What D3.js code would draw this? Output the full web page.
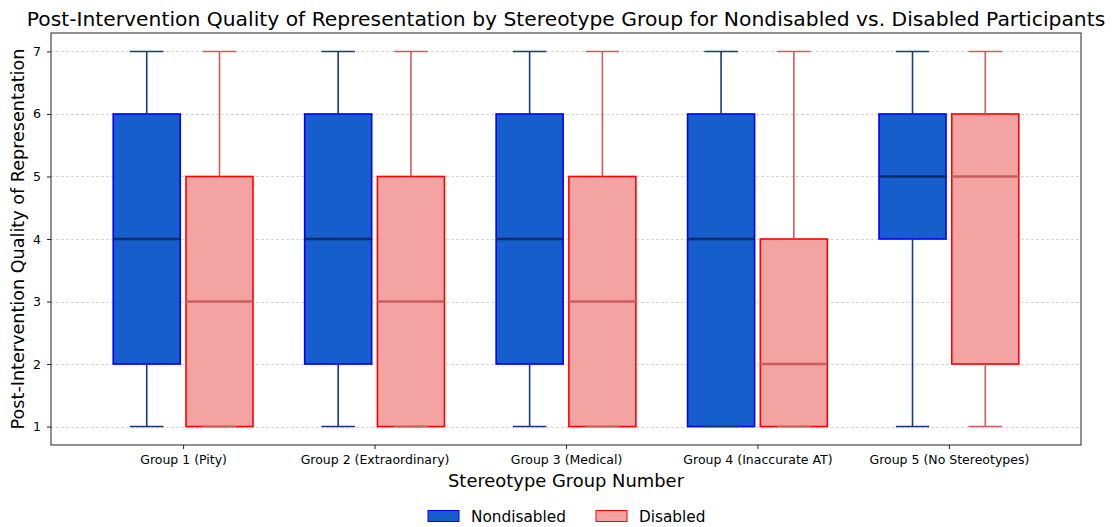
<!DOCTYPE html>
<html>
<head>
<meta charset="utf-8">
<script src="https://cdn.jsdelivr.net/npm/d3@7"></script>
<style>
  body { margin: 0; background: #fff; }
  text { font-family: "DejaVu Sans", sans-serif; fill: #000; }
</style>
</head>
<body>
<svg id="chart" width="1112" height="527"></svg>
<script>
// Stereotype groups on the x axis
const groups = [
  "Group 1 (Pity)",
  "Group 2 (Extraordinary)",
  "Group 3 (Medical)",
  "Group 4 (Inaccurate AT)",
  "Group 5 (No Stereotypes)"
];
// Five-number summaries [min, q1, median, q3, max] per group
const nondisabledStats = [
  [1, 2, 4, 6, 7],
  [1, 2, 4, 6, 7],
  [1, 2, 4, 6, 7],
  [1, 1, 4, 6, 7],
  [1, 4, 5, 6, 7]
];
const disabledStats = [
  [1, 1, 3, 5, 7],
  [1, 1, 3, 5, 7],
  [1, 1, 3, 5, 7],
  [1, 1, 2, 4, 7],
  [1, 2, 5, 6, 7]
];
const yTicks = [1, 2, 3, 4, 5, 6, 7];
const seriesNames = ["Nondisabled", "Disabled"];

const styles = [
  { fill: "#175ecd", edge: "#0000ff", median: "#0b2a66", whisker: "#173a7a" },
  { fill: "#f4a3a3", edge: "#ff0000", median: "#cd5c5c", whisker: "#cd5c5c" }
];

const svg = d3.select("#chart");
const margin = { left: 51, right: 1081, top: 33, bottom: 445 };

const x = d3.scaleLinear().domain([-0.69, groups.length - 1 + 0.69]).range([margin.left, margin.right]);
const y = d3.scaleLinear().domain([0.705, 7.295]).range([margin.bottom, margin.top]);

const offset = 0.19;   // group-centre to box-centre
const boxW = 0.35;     // box width in category units
const capW = boxW / 2;

// Horizontal grid
svg.append("g")
  .selectAll("line")
  .data(yTicks)
  .join("line")
  .attr("x1", margin.left).attr("x2", margin.right)
  .attr("y1", d => Math.round(y(d)) + 0.5).attr("y2", d => Math.round(y(d)) + 0.5)
  .attr("stroke", "#cccccc")
  .attr("stroke-width", 0.8)
  .attr("stroke-dasharray", "3,2");

// Boxes
[nondisabledStats, disabledStats].forEach((series, si) => {
  const st = styles[si];
  const sign = si === 0 ? -1 : 1;
  const g = svg.append("g");
  series.forEach((s, i) => {
    const cx = x(i + sign * offset);
    const half = (x(boxW) - x(0)) / 2;
    const capHalf = (x(capW) - x(0)) / 2;
    const [mn, q1, med, q3, mx] = s;
    g.append("rect")
      .attr("x", cx - half).attr("y", y(q3))
      .attr("width", half * 2).attr("height", y(q1) - y(q3))
      .attr("fill", st.fill).attr("stroke", st.edge).attr("stroke-width", 1.6);
    // whiskers
    g.append("line").attr("x1", cx).attr("x2", cx).attr("y1", y(q3)).attr("y2", y(mx))
      .attr("stroke", st.whisker).attr("stroke-width", 1.6);
    g.append("line").attr("x1", cx).attr("x2", cx).attr("y1", y(q1)).attr("y2", y(mn))
      .attr("stroke", st.whisker).attr("stroke-width", 1.6);
    // caps
    [mn, mx].forEach(v => {
      g.append("line").attr("x1", cx - capHalf).attr("x2", cx + capHalf)
        .attr("y1", y(v)).attr("y2", y(v))
        .attr("stroke", st.whisker).attr("stroke-width", 1.6);
    });
    // median
    g.append("line").attr("x1", cx - half).attr("x2", cx + half)
      .attr("y1", y(med)).attr("y2", y(med))
      .attr("stroke", st.median).attr("stroke-width", 2.4);
  });
});

// Axes frame
svg.append("rect")
  .attr("x", margin.left).attr("y", margin.top)
  .attr("width", margin.right - margin.left).attr("height", margin.bottom - margin.top)
  .attr("fill", "none").attr("stroke", "#222").attr("stroke-width", 1);

// Y axis
const yAxis = svg.append("g")
  .attr("transform", `translate(${margin.left},0)`)
  .call(d3.axisLeft(y).tickValues(yTicks).tickSize(4).tickPadding(6).tickFormat(d3.format("d")));
yAxis.select(".domain").remove();
yAxis.selectAll("text").style("font-size", "12.5px").style("font-family", "DejaVu Sans");
yAxis.selectAll("line").attr("stroke", "#222").attr("stroke-width", 1);

// X axis
const xAxis = svg.append("g")
  .attr("transform", `translate(0,${margin.bottom})`)
  .call(d3.axisBottom(x).tickValues(d3.range(groups.length)).tickSize(4).tickPadding(6).tickFormat(i => groups[i]));
xAxis.select(".domain").remove();
xAxis.selectAll("text").style("font-size", "12.5px").style("font-family", "DejaVu Sans");
xAxis.selectAll("line").attr("stroke", "#222").attr("stroke-width", 1);

// Title and axis labels
svg.append("text")
  .attr("x", (margin.left + margin.right) / 2).attr("y", 26)
  .attr("text-anchor", "middle").style("font-size", "20.3px")
  .text("Post-Intervention Quality of Representation by Stereotype Group for Nondisabled vs. Disabled Participants");

svg.append("text")
  .attr("x", (margin.left + margin.right) / 2).attr("y", 487)
  .attr("text-anchor", "middle").style("font-size", "17.9px")
  .text("Stereotype Group Number");

svg.append("text")
  .attr("transform", `translate(24,${(margin.top + margin.bottom) / 2}) rotate(-90)`)
  .attr("text-anchor", "middle").style("font-size", "17.6px")
  .text("Post-Intervention Quality of Representation");

// Legend
const legend = svg.append("g");
const legendX = [428, 596];
seriesNames.forEach((name, i) => {
  legend.append("rect")
    .attr("x", legendX[i]).attr("y", 510.5)
    .attr("width", 31).attr("height", 11)
    .attr("fill", styles[i].fill).attr("stroke", styles[i].edge).attr("stroke-width", 1);
  legend.append("text")
    .attr("x", legendX[i] + 43).attr("y", 522)
    .style("font-size", "15.3px")
    .text(name);
});
</script>
</body>
</html>
